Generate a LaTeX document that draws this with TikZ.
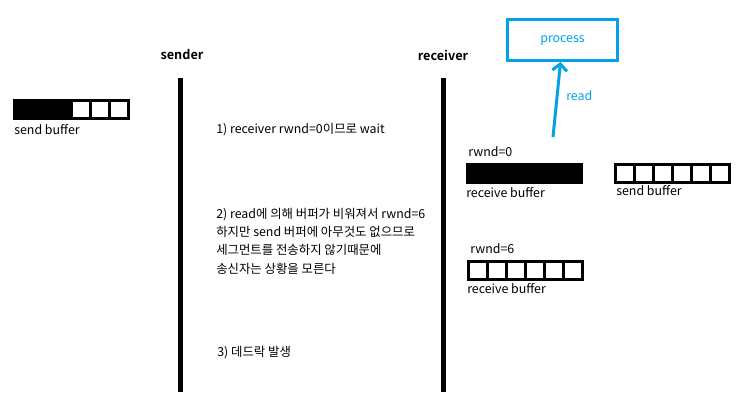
\documentclass[tikz,border=0pt]{standalone}
\usepackage{fontspec}
\setmainfont{Noto Sans CJK KR}[BoldFont={Noto Sans CJK KR Bold}]
\usetikzlibrary{arrows.meta,positioning}
\definecolor{paintblue}{RGB}{0,162,232}
\tikzset{lbl/.style={font=\fontsize{9.3}{13.7}\selectfont,inner sep=0pt,anchor=west,align=left},hd/.style={font=\fontsize{9.5}{11}\selectfont\bfseries,inner sep=0pt},life/.style={line width=3.75pt},cell/.style={draw=black,line width=2.25pt},proc/.style={draw=paintblue,line width=2.25pt,text=paintblue,minimum width=82.5pt,minimum height=30.75pt,font=\fontsize{9.3}{11}\selectfont},rd/.style={draw=paintblue,line width=2.25pt,-{Straight Barb[length=5pt,width=11pt]}}}

\begin{document}
\begin{tikzpicture}[x=0.75pt,y=-0.75pt]
\useasboundingbox (0,0) rectangle (741,412);
% lifelines
\node[hd] (snd) at (182,55) {sender};
\node[hd] (rcv) at (443,55) {receiver};
\coordinate (sndtop) at (180.5,78); \coordinate (sndbot) at (180.5,392);
\coordinate (rcvtop) at (443.5,78); \coordinate (rcvbot) at (443.5,392);
\draw[life] (sndtop)--(sndbot);
\draw[life] (rcvtop)--(rcvbot);
% buffers: x/y of first cell, filled cells
\foreach \bx/\by/\nf in {14.5/100.5/3,467.5/164.5/6,615.5/164.5/0,468.5/261.5/0}{
\fill[black] (\bx,\by) rectangle ++(\nf*19,18);
\foreach \i in {0,...,5}{\draw[cell] (\bx+\i*19,\by) rectangle ++(19,18);}
}
\node[lbl] (sbufl) at (14,130) {send buffer};
\node[lbl] (rw0) at (468,152) {rwnd=0};
\node[lbl] (rbuf0) at (466,193) {receive buffer};
\node[lbl] (sbufr) at (616,191) {send buffer};
\node[lbl] (rw6) at (470,249) {rwnd=6};
\node[lbl] (rbuf6) at (467,289) {receive buffer};
% steps
\node[lbl] (st1) at (216,130) {1) receiver rwnd=0이므로 wait};
\node[lbl] (st2) at (216,241) {2) read에 의해 버퍼가 비워져서 rwnd=6\\하지만 send 버퍼에 아무것도 없으므로\\세그먼트를 전송하지 않기때문에\\송신자는 상황을 모른다};
\node[lbl] (st3) at (217,353) {3) 데드락 발생};
% process
\node[proc] (proc) at (562.5,40) {process};
\coordinate (rdsrc) at (553,137);
\draw[rd] (rdsrc)--([xshift=-1.5pt]proc.south);
\node[lbl,text=paintblue] (rdlbl) at (566,96) {read};
\end{tikzpicture}
\end{document}
